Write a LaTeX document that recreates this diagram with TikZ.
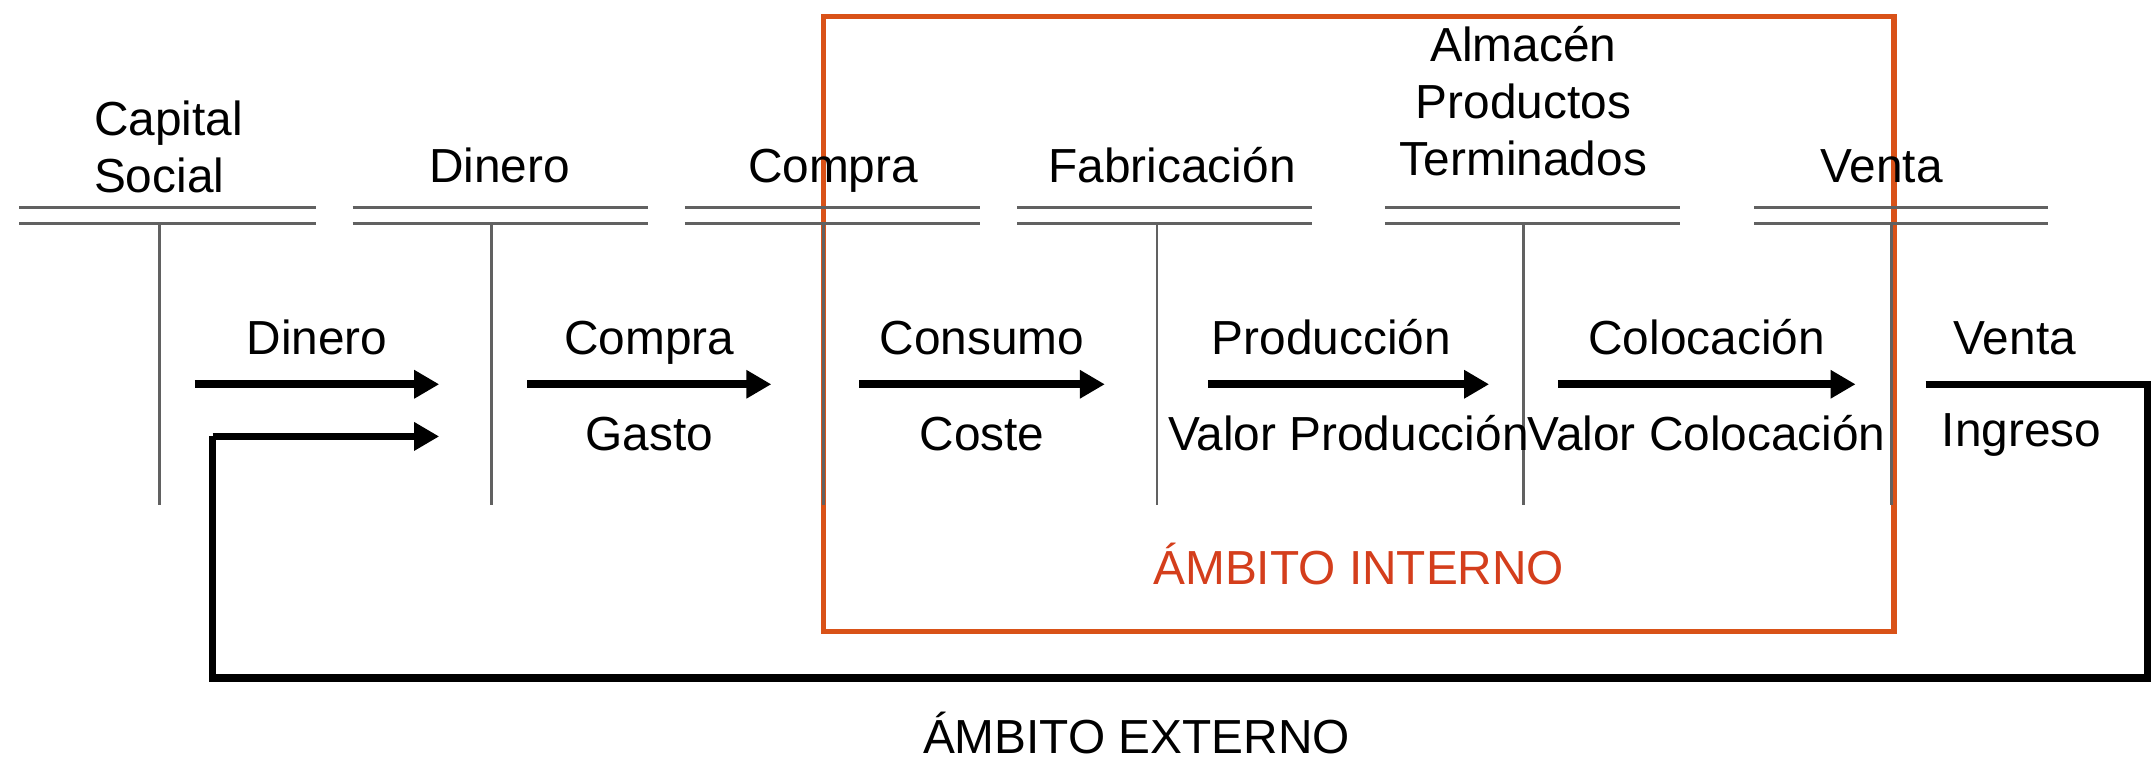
\documentclass[tikz,border=0pt]{standalone}
\usepackage{fontspec}
\setmainfont{Liberation Sans}
\usepackage{xcolor}
\usetikzlibrary{arrows.meta}
\definecolor{naranja}{RGB}{217,82,24}
\definecolor{rojizo}{RGB}{212,62,28}
\tikzset{>={Triangle[length=2.5mm, width=2.7mm]}}
\tikzset{
  cuenta/.style={draw=black!62, line width=0.8pt},
  flecha/.style={->, line width=2.2pt},
  lazo/.style={line width=2pt},
  arriba/.style={above=1.8mm, inner sep=0pt, text height=3.5mm, text depth=0.8mm},
  abajo/.style={below=2.7mm, inner sep=0pt, text height=3.5mm, text depth=0.8mm},
  titulo/.style={inner sep=0pt, align=center}
}

\begin{document}
\begin{tikzpicture}[x=0.13724mm, y=-0.13724mm, font=\fontsize{13.6}{16.2}\selectfont]
\useasboundingbox (0,0) rectangle (1568,554);
\draw[naranja, line width=1.6pt] (600,12) rectangle (1380,460);
% cuentas en T
\draw[cuenta] (14,151) -- (230,151) (14,163) -- (230,163) (116,163) -- (116,368);
\draw[cuenta] (257,151) -- (472,151) (257,163) -- (472,163) (358,163) -- (358,368);
\draw[cuenta] (499,151) -- (714,151) (499,163) -- (714,163) (600,163) -- (600,368);
\draw[cuenta] (741,151) -- (956,151) (741,163) -- (956,163) (843,163) -- (843,368);
\draw[cuenta] (1009,151) -- (1224,151) (1009,163) -- (1224,163) (1110,163) -- (1110,368);
\draw[cuenta] (1278,151) -- (1492,151) (1278,163) -- (1492,163) (1378,163) -- (1378,368);
\node[titulo, align=left, anchor=south west] (capital) at (68,141) {Capital\\Social};
\node[titulo, anchor=base] (dinero) at (364,133) {Dinero};
\node[titulo, anchor=base] (compra) at (607,133) {Compra};
\node[titulo, anchor=base] (fabricacion) at (854,133) {Fabricación};
\node[titulo, anchor=south] (almacen) at (1110,129) {Almacén\\Productos\\Terminados};
\node[titulo, anchor=base] (venta) at (1371,133) {Venta};
% flujos
\coordinate (d0) at (142,280);   \coordinate (d1) at (320,280);
\coordinate (c0) at (384,280);   \coordinate (c1) at (562,280);
\coordinate (k0) at (626,280);   \coordinate (k1) at (805,280);
\coordinate (p0) at (880,280);   \coordinate (p1) at (1085,280);
\coordinate (o0) at (1135,280);  \coordinate (o1) at (1352,280);
\coordinate (v0) at (1403,280);  \coordinate (esq) at (1565,494);
\coordinate (r0) at (155,318);   \coordinate (r1) at (320,318);
\draw[flecha] (d0) -- (d1) node[midway, arriba] (lDinero) {Dinero};
\draw[flecha] (c0) -- (c1) node[midway, arriba] (lCompra) {Compra}
  node[midway, abajo] (lGasto) {Gasto};
\draw[flecha] (k0) -- (k1) node[midway, arriba] (lConsumo) {Consumo}
  node[midway, abajo] (lCoste) {Coste};
\draw[flecha] (p0) -- (p1) node[pos=0.44, arriba] (lProduccion) {Producción}
  node[midway, abajo] (lValorProd) {Valor Producción};
\draw[flecha] (o0) -- (o1) node[midway, arriba] (lColocacion) {Colocación}
  node[midway, abajo] (lValorCol) {Valor Colocación};
\draw[lazo] (v0) -| (esq) -| (r0);
\draw[flecha] (r0) -- (r1);
\node[titulo, anchor=base] (lVenta) at (1468,258) {Venta};
\node[titulo, anchor=base] (lIngreso) at (1473,325) {Ingreso};
\node[titulo, rojizo, anchor=base] (interno) at (990,426) {ÁMBITO INTERNO};
\node[titulo, anchor=base] (externo) at (828,549) {ÁMBITO EXTERNO};
\end{tikzpicture}
\end{document}
